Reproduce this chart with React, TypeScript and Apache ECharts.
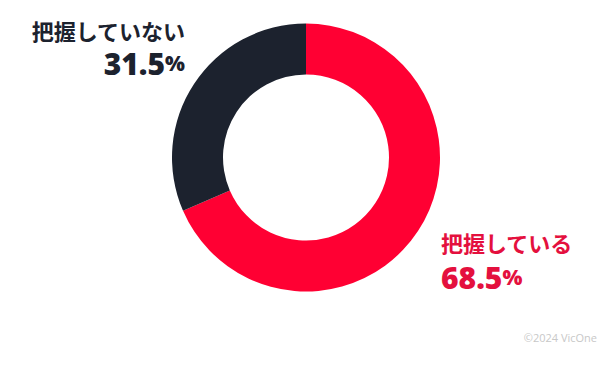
import React, { useEffect, useRef } from "react";
import * as echarts from "echarts";

const categories = ["把握している", "把握していない"];
const values = [68.5, 31.5];
const colors = ["#FF0033", "#1C222E"];
const labelColors = ["#E4103E", "#1C222E"];
const credit = "©2024 VicOne";

export default function App() {
  const ref = useRef<HTMLDivElement>(null);
  useEffect(() => {
    if (!ref.current) return;
    const chart = echarts.init(ref.current, null, { renderer: "svg" });
    const font = '"Noto Sans CJK JP", "Noto Sans", sans-serif';
    const numFont = '"Open Sans", "Noto Sans", sans-serif';
    const mkLabel = (i: number, x: number, yName: number, yVal: number, align: "left" | "right") => [
      {
        type: "text",
        x,
        y: yName,
        style: {
          text: categories[i],
          align,
          verticalAlign: "middle",
          fontSize: 22,
          lineHeight: 22,
          fontWeight: "bold",
          fontFamily: font,
          fill: labelColors[i],
        },
      },
      {
        type: "text",
        x,
        y: yVal,
        style: {
          text: `{v|${values[i].toFixed(1)}}{p|%}`,
          align,
          verticalAlign: "middle",
          fill: labelColors[i],
          rich: {
            v: { fontSize: 30, fontWeight: 800, fontFamily: numFont, fill: labelColors[i], lineHeight: 30 },
            p: { fontSize: 21, fontWeight: 800, fontFamily: numFont, fill: labelColors[i], lineHeight: 30 },
          },
        },
      },
    ];
    chart.setOption({
      animation: false,
      backgroundColor: "#ffffff",
      series: [
        {
          type: "pie",
          center: [306, 157.5],
          radius: [83, 134],
          startAngle: 90,
          clockwise: true,
          label: { show: false },
          labelLine: { show: false },
          emphasis: { disabled: true },
          data: categories.map((c, i) => ({ name: c, value: values[i], itemStyle: { color: colors[i] } })),
        },
      ],
      graphic: [
        ...mkLabel(1, 185, 30, 63, "right"),
        ...mkLabel(0, 441, 242, 277, "left"),
        {
          type: "text",
          right: 18,
          top: 332,
          style: { text: credit, fontSize: 11, fill: "#C8C8C8", fontFamily: '"Open Sans", "Noto Sans", sans-serif' },
        },
      ],
    });
    return () => chart.dispose();
  }, []);
  return <div ref={ref} style={{ position: "fixed", left: 0, top: 0, width: 615, height: 370 }} />;
}
